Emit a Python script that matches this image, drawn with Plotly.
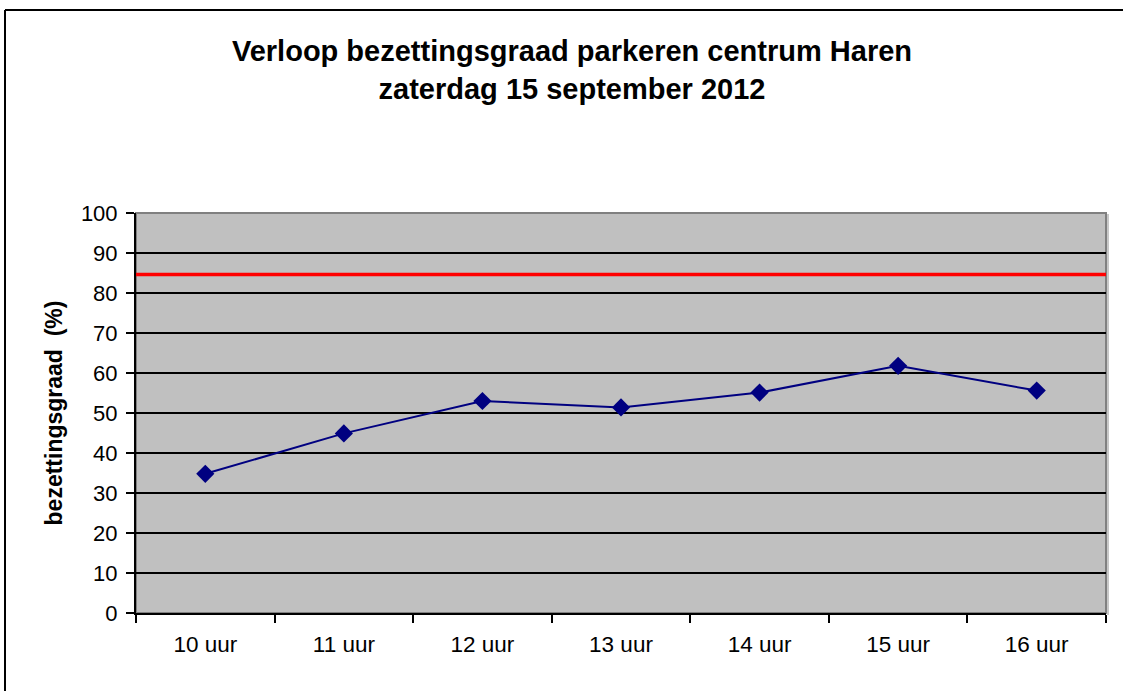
import plotly.graph_objects as go

# data
uren = ["10 uur", "11 uur", "12 uur", "13 uur", "14 uur", "15 uur", "16 uur"]
bezetting = [34.8, 44.9, 53.0, 51.4, 55.1, 61.8, 55.6]
norm = 84.6  # red threshold line (%)

W, H = 1123, 691
L, R, T, B = 136, 17, 213, 78
pw, ph = W - L - R, H - T - B

def px_x(x):
    return (x - L) / pw

def px_y(y):
    return (H - B - y) / ph

font = "Liberation Sans, Arial, sans-serif"

fig = go.Figure()
fig.add_trace(go.Scatter(
    x=uren, y=bezetting, mode="lines+markers",
    line=dict(color="#000080", width=2),
    marker=dict(symbol="diamond", size=14, color="#000080"),
    showlegend=False, cliponaxis=False,
))

shapes = [
    # plot-area frame (grey) and shadow
    dict(type="rect", xref="paper", yref="paper", x0=0, x1=1, y0=0, y1=1,
         line=dict(color="#808080", width=2), layer="below"),
    dict(type="line", xref="paper", yref="paper", x0=px_x(1108), x1=px_x(1108),
         y0=px_y(615), y1=px_y(214), line=dict(color="#c8c8c8", width=2)),
    # threshold line
    dict(type="line", xref="paper", yref="y", x0=0, x1=1, y0=norm, y1=norm,
         line=dict(color="#ff0000", width=3.5)),
    # outer chart border (only top & left visible)
    dict(type="line", xref="paper", yref="paper", x0=px_x(5), x1=px_x(1130),
         y0=px_y(10), y1=px_y(10), line=dict(color="black", width=2)),
    dict(type="line", xref="paper", yref="paper", x0=px_x(5), x1=px_x(5),
         y0=px_y(10), y1=px_y(700), line=dict(color="black", width=2)),
]

fig.update_layout(
    width=W, height=H,
    margin=dict(l=L, r=R, t=T, b=B),
    paper_bgcolor="white", plot_bgcolor="#c0c0c0",
    font=dict(family=font, color="black", size=20),
    title=dict(
        text="<b>Verloop bezettingsgraad parkeren centrum Haren<br>zaterdag 15 september 2012</b>",
        x=572 / W, xanchor="center", xref="container",
        y=1 - 61 / H, yanchor="middle", yref="container",
        font=dict(size=29, family=font),
    ),
    shapes=shapes,
)

fig.update_xaxes(
    type="category", range=[-0.5, 6.5], tickson="boundaries",
    ticks="outside", ticklen=8, tickwidth=2, tickcolor="black",
    showline=True, linecolor="black", linewidth=2, showgrid=False,
    tickfont=dict(size=22.5), ticklabelstandoff=10,
)
fig.update_yaxes(
    range=[0, 100], dtick=10, tickmode="linear",
    ticks="outside", ticklen=8, tickwidth=2, tickcolor="black",
    showline=True, linecolor="black", linewidth=2,
    showgrid=True, gridcolor="black", gridwidth=1.8, zeroline=False,
    tickfont=dict(size=22), ticklabelstandoff=4,
    title=dict(text="<b>bezettingsgraad  (%)</b>", font=dict(size=23), standoff=12),
)

fig.write_html("out.html", config={"displayModeBar": False},
               post_script="document.body.style.margin='0';")
